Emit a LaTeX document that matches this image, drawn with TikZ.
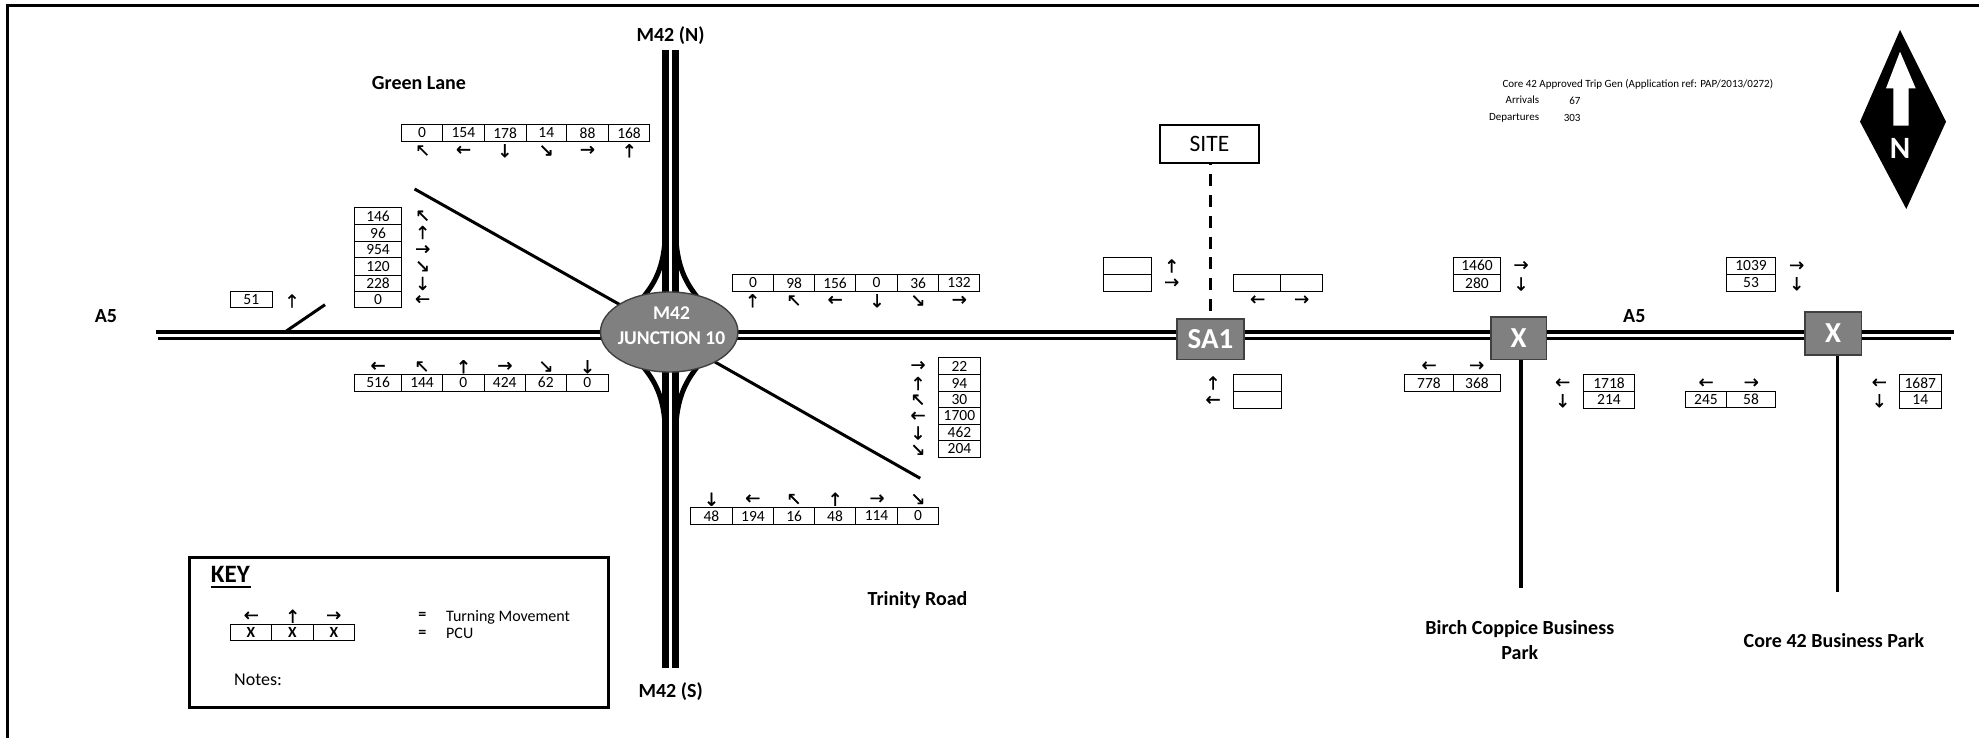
\documentclass[tikz,border=0pt]{standalone}
\usepackage{fontspec}
\setmainfont{Carlito}
\newfontfamily\arrfont[FakeBold=0.8]{DejaVu Sans}
\usetikzlibrary{backgrounds,shapes.geometric}
\newcounter{cellno}
\newcommand{\fs}[1]{\fontsize{#1}{#1}\selectfont}
\newcommand{\aL}{←}\newcommand{\aU}{↑}\newcommand{\aR}{→}\newcommand{\aD}{↓}\newcommand{\aNW}{↖}\newcommand{\aSE}{↘}
\tikzset{
  cellbox/.style={draw=black,line width=1pt,inner sep=0pt,outer sep=0pt,font=\fs{15.5}},
  arrowglyph/.style={inner sep=0pt,font=\arrfont\fs{18}},
  roadline/.style={draw=black,line width=3.4pt},
  motorway/.style={draw=black,line width=6.5pt},
  sliproad/.style={draw=black,line width=5pt},
  armline/.style={draw=black,line width=3pt},
  stemline/.style={draw=black,line width=3.2pt},
  junctionbox/.style={draw=black!75,line width=1.6pt,fill=black!50,text=white,inner sep=0pt,font=\bfseries\fs{29}},
  boldlabel/.style={inner sep=0pt,font=\bfseries\fs{20},align=center},
  smalllabel/.style={inner sep=0pt,font=\fs{11}}
}
% horizontal row: y1 y2 x0 {x/text,...}
\newcommand{\hcells}[4]{\foreach \x/\t [remember=\x as \lx (initially #3)] in {#4}{%
  \stepcounter{cellno}\pgfmathsetmacro\w{\x-\lx}\pgfmathsetmacro\hh{#2-#1}%
  \node[cellbox,minimum width=\w pt,minimum height=\hh pt] (c\arabic{cellno}) at ({(\x+\lx)/2},{(#1+#2)/2}) {\raisebox{-0.8pt}{\t}};}}
% vertical column: x1 x2 y0 {y/text,...}
\newcommand{\vcells}[4]{\foreach \y/\t [remember=\y as \ly (initially #3)] in {#4}{%
  \stepcounter{cellno}\pgfmathsetmacro\w{#2-#1}\pgfmathsetmacro\hh{\y-\ly}%
  \node[cellbox,minimum width=\w pt,minimum height=\hh pt] (c\arabic{cellno}) at ({(#1+#2)/2},{(\y+\ly)/2}) {\raisebox{-0.8pt}{\t}};}}
% arrows: {x/y/glyph,...}
\newcommand{\arws}[1]{\foreach \x/\y/\g in {#1}{\stepcounter{cellno}\node[arrowglyph] (c\arabic{cellno}) at (\x,\y) {\g};}}
\begin{document}
\begin{tikzpicture}[x=1pt,y=-1pt]
\useasboundingbox (0,0) rectangle (1979,738);
% page frame
\coordinate (frameBL) at (7.5,738);
\coordinate (frameTL) at (7.5,5.5);
\coordinate (frameTR) at (1979,5.5);
\draw[black,line width=3pt] (frameBL) -- (frameTL) -- (frameTR);

% free road ends
\coordinate (a5wu) at (155.5,332);
\coordinate (a5wl) at (158,338.5);
\coordinate (a5eu) at (1954.3,332);
\coordinate (a5el) at (1951,338.5);
\coordinate (mnl) at (665.5,50);
\coordinate (mnr) at (675.5,50);
\coordinate (msl) at (665.5,668);
\coordinate (msr) at (675.5,668);
\coordinate (glend) at (414.6,189);
\coordinate (glin) at (640,316);
\coordinate (trend) at (920.2,478.3);
\coordinate (trin) at (700,353.5);
\coordinate (spura) at (286.4,331);
\coordinate (spurb) at (325,304.7);
\coordinate (st1) at (1521,588.3);
\coordinate (st2) at (1837.7,591.7);

% junction nodes
\node[ellipse,draw=black!75,line width=1.4pt,fill=black!50,minimum width=137.5pt,minimum height=80pt,inner sep=0pt] (junc) at (669.2,332) {};
\node[text=white,inner sep=0pt,font=\bfseries\fs{19.5}] (junctxta) at (671.5,313) {M42};
\node[text=white,inner sep=0pt,font=\bfseries\fs{19.5}] (junctxtb) at (671.5,338) {JUNCTION 10};
\node[junctionbox,minimum width=67.5pt,minimum height=40.5pt] (sa1) at (1210.5,339.2) {SA1};
\node[junctionbox,minimum width=55.6pt,minimum height=42.3pt] (x1) at (1518.5,338.2) {X};
\node[junctionbox,minimum width=56.6pt,minimum height=43pt] (x2) at (1833,333.2) {X};
\node[draw=black,line width=2pt,minimum width=99pt,minimum height=37.7pt,inner sep=0pt,font=\fs{23.5}] (site) at (1209.5,143.8) {SITE};

% roads
\begin{scope}[on background layer]
\draw[roadline] (a5wu) -- (a5eu);
\draw[roadline] (a5wl) -- (a5el);
\draw[motorway] (mnl) -- (msl);
\draw[motorway] (mnr) -- (msr);
\draw[sliproad] (665,240) .. controls (663,268) and (655,283) .. (642.5,298);
\draw[sliproad] (676,240) .. controls (678,268) and (686,283) .. (698,298);
\draw[sliproad] (665,424) .. controls (663,396) and (655,381) .. (642.5,366);
\draw[sliproad] (676,424) .. controls (678,396) and (686,381) .. (698,366);
\draw[armline] (glend) -- (glin);
\draw[armline] (trend) -- (trin);
\draw[armline] (spura) -- (spurb);
\draw[stemline] (x1.south -| st1) -- (st1);
\draw[stemline] (x2.south -| st2) -- (st2);
\draw[black,line width=3pt,dash pattern=on 12pt off 8.8pt,dash phase=10.2pt] (site.south -| sa1.north) -- (sa1.north);
\end{scope}

% Green Lane table
\hcells{124.3}{141.3}{401.6}{442.5/0,484.2/154,526/178,566.5/14,608.6/88,649.5/168}
\arws{422.6/150.7/\aNW,463.5/150.7/\aL,504.8/150.7/\aD,546.2/150.7/\aSE,587.5/150.7/\aR,629.3/150.7/\aU}
% West column
\vcells{354.5}{401.6}{207.3}{224.7/146,241.3/96,257.7/954,275/120,291.7/228,307.3/0}
\arws{422.6/216/\aNW,422.6/232.5/\aU,422.6/250/\aR,422.6/266.5/\aSE,422.6/283.5/\aD,422.6/300/\aL}
% 51
\vcells{230.5}{272.2}{291}{307.3/51}
\arws{292/301/\aU}
% West lower row
\hcells{374.3}{391.3}{354.6}{401.6/516,442.5/144,484.2/0,525.3/424,566.2/62,608.3/0}
\arws{378/366.7/\aL,422/366.7/\aNW,463.5/366.7/\aU,505/366.7/\aR,546/366.7/\aSE,587.5/366.7/\aD}
% East upper row
\hcells{274.3}{291.7}{732.3}{773.6/0,814.6/98,855.5/156,897.6/0,938.6/36,979.5/132}
\arws{752.6/300.7/\aU,794/300.7/\aNW,835.2/300.7/\aL,877/300.7/\aD,918/300.7/\aSE,959.3/300.7/\aR}
% East column
\vcells{938.6}{980.3}{357.3}{374.7/22,391.7/94,407.7/30,424.3/1700,440.7/462,457.3/204}
\arws{918/366/\aR,918/383.5/\aU,918/400/\aNW,918/416.5/\aL,918/433/\aD,918/450/\aSE}
% South row
\hcells{507.3}{524.7}{690.6}{732.3/48,773.6/194,814.6/16,855.5/48,897.6/114,938.6/0}
\arws{711.5/499.3/\aD,752.8/499.3/\aL,794/499.3/\aNW,835.2/499.3/\aU,877/499.3/\aR,918/499.3/\aSE}
% SA1 empties
\vcells{1103.3}{1151.7}{257.3}{274.3/{},291.7/{}}
\arws{1171.7/266/\aU,1171.7/283.3/\aR}
\hcells{274.3}{291.7}{1233.3}{1280.3/{},1322.7/{}}
\arws{1257.7/300.3/\aL,1301.7/300.3/\aR}
\vcells{1233.3}{1281}{374.3}{391.3/{},408/{}}
\arws{1213/383/\aU,1213/400.7/\aL}
% Birch Coppice
\vcells{1453.3}{1500.7}{257.3}{274.3/1460,291.7/280}
\arws{1521/266/\aR,1521/284/\aD}
\hcells{374.3}{391.3}{1404.7}{1453.3/778,1500.7/368}
\arws{1429/366.3/\aL,1476.7/366.3/\aR}
\vcells{1583.7}{1634.3}{374.3}{391.7/1718,408/214}
\arws{1562.7/383.3/\aL,1562.7/400.7/\aD}
% Core 42
\vcells{1726.3}{1775.7}{257.3}{274.3/1039,291.7/53}
\arws{1796.7/266.3/\aR,1796.7/283.7/\aD}
\hcells{391.7}{407.3}{1685.7}{1726.3/245,1775.7/58}
\arws{1706/383.3/\aL,1751.3/383.3/\aR}
\vcells{1899.3}{1941.3}{374.3}{391.7/1687,408/14}
\arws{1879.3/383.3/\aL,1879.3/400.7/\aD}

% Labels
\node[boldlabel] (lmn) at (670.5,36) {M42 (N)};
\node[boldlabel] (lms) at (670.7,691.5) {M42 (S)};
\node[boldlabel] (la5w) at (106,316) {A5};
\node[boldlabel] (la5e) at (1634.3,316) {A5};
\node[boldlabel] (lgl) at (419,83) {Green Lane};
\node[boldlabel] (ltr) at (917.5,600.5) {Trinity Road};
\node[boldlabel] (lbi) at (1519.8,640) {Birch Coppice Business\\[5pt]Park};
\node[boldlabel] (lco) at (1834,641) {Core 42 Business Park};

% Trip generation note
\node[smalllabel,anchor=base west] (tga) at (1502.3,88) {Core 42 Approved Trip Gen (Application ref: PAP/2013/0272)};
\node[smalllabel,anchor=base east] (tgb) at (1539.3,104) {Arrivals};
\node[smalllabel,anchor=base east] (tgc) at (1580.7,105) {67};
\node[smalllabel,anchor=base east] (tgd) at (1539.3,121) {Departures};
\node[smalllabel,anchor=base east] (tge) at (1580.7,122) {303};

% North sign
\fill[black] (1900,30) -- (1946,121.7) -- (1906.3,209) -- (1860,121.7) -- cycle;
\fill[white] (1900,51.7) -- (1915.7,88.3) -- (1908.7,88.3) -- (1908.7,125.7) -- (1893.3,125.7) -- (1893.3,88.3) -- (1886,88.3) -- cycle;
\node[text=white,inner sep=0pt,font=\bfseries\fs{31}] (north) at (1900,148.3) {N};

% Key
\node[draw=black,line width=3pt,minimum width=419.4pt,minimum height=150pt,inner sep=0pt] (keybox) at (399,632.3) {};
\node[inner sep=0pt,font=\bfseries\fs{25},anchor=base west] (keyt) at (210.7,582) {KEY};
\coordinate (keyula) at (210.7,587);
\coordinate (keyulb) at (251,587);
\draw[black,line width=1.6pt] (keyula) -- (keyulb);
\hcells{624.3}{640.3}{230.3}{271.3/\textbf{X},313.7/\textbf{X},354.3/\textbf{X}}
\arws{251.3/616.3/\aL,292.7/616.3/\aU,333.7/616.3/\aR}
\node[inner sep=0pt,font=\bfseries\fs{16},anchor=center] (keyeqa) at (422.3,616.3) {=};
\node[inner sep=0pt,font=\bfseries\fs{16},anchor=center] (keyeqb) at (422.3,633.7) {=};
\node[inner sep=0pt,font=\fs{16},anchor=base west] (keytm) at (446,621.5) {Turning Movement};
\node[inner sep=0pt,font=\fs{16},anchor=base west] (keypcu) at (446,638.8) {PCU};
\node[inner sep=0pt,font=\fs{18},anchor=base west] (keyno) at (234,685) {Notes:};
\end{tikzpicture}
\end{document}
